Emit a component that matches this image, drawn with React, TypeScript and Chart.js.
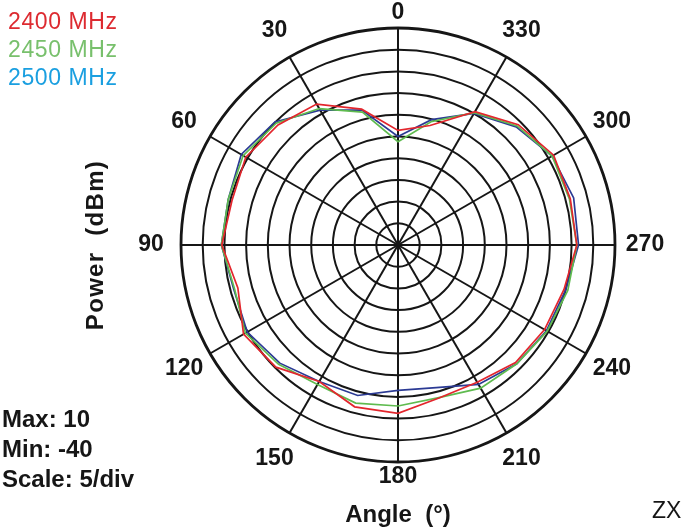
import React, { useEffect, useRef } from "react";
import { Chart, registerables } from "chart.js";

Chart.register(...registerables);

// Angles in degrees (counter-clockwise from top, as in the reference)
const ANGLES = [0, 15, 30, 45, 60, 75, 90, 105, 120, 135, 150, 165, 180, 195, 210, 225, 240, 255, 270, 285, 300, 315, 330, 345];

// Power (dBm) per angle
const P2400 = [-13.6, -7.6, -2.5, -0.9, 0.5, -0.4, 0.6, -1.8, 1.1, -0.2, -3.7, -1.4, -1.2, -3.5, -3.5, -1.7, -1.0, -0.4, 1.2, 1.1, 1.4, -0.8, -4.5, -11.5];
const P2450 = [-16.2, -8.3, -3.7, -0.3, 1.2, 0.5, 0.7, -1.0, 0.6, -1.1, -2.9, -2.3, -2.9, -3.6, -1.9, -1.3, -0.3, 0.5, 1.2, 0.9, 1.0, -1.2, -4.8, -10.6];
const P2500 = [-15.0, -7.8, -4.1, 0.1, 1.7, 0.5, 0.7, -0.8, 0.1, -1.5, -3.7, -4.1, -6.5, -6.0, -2.9, -1.3, -0.5, 0.0, 1.6, 1.9, 1.0, -1.5, -5.0, -10.1];

const SERIES_NAMES = ["2400 MHz", "2450 MHz", "2500 MHz"];
const R_MIN = -40;
const R_MAX = 10;
const R_STEP = 5;

const FONT = '"Liberation Sans", Arial, Helvetica, sans-serif';
const INK = "#161616";

// Chart.js goes clockwise; the reference goes counter-clockwise.
const reorder = <T,>(arr: T[]): T[] => arr.map((_, i) => arr[(arr.length - i) % arr.length]);

const angleLabelPlugin = {
  id: "angleLabels",
  afterDraw(chart: any) {
    const scale = chart.scales.r;
    const ctx = chart.ctx;
    const labels = chart.data.labels as number[];
    ctx.save();
    ctx.font = `bold 23px ${FONT}`;
    ctx.fillStyle = INK;
    ctx.textAlign = "center";
    ctx.textBaseline = "middle";
    labels.forEach((lab, i) => {
      if (lab % 30 !== 0) return;
      const vertical = lab === 0 || lab === 180;
      const p = scale.getPointPosition(i, scale.drawingArea + (vertical ? 15 : 30));
      ctx.fillText(String(lab), p.x, p.y);
    });
    ctx.restore();
  },
};

export default function App() {
  const ref = useRef<HTMLCanvasElement | null>(null);

  useEffect(() => {
    if (!ref.current) return;
    const chart = new Chart(ref.current, {
      type: "radar",
      data: {
        labels: reorder(ANGLES),
        datasets: [
          { label: SERIES_NAMES[0], data: reorder(P2400), borderColor: "#e3262d", borderWidth: 1.7, pointRadius: 0, fill: false, tension: 0 },
          { label: SERIES_NAMES[1], data: reorder(P2450), borderColor: "#5fbb4f", borderWidth: 1.7, pointRadius: 0, fill: false, tension: 0 },
          { label: SERIES_NAMES[2], data: reorder(P2500), borderColor: "#2b3a94", borderWidth: 1.7, pointRadius: 0, fill: false, tension: 0 },
        ],
      },
      options: {
        responsive: true,
        maintainAspectRatio: false,
        animation: false,
        layout: { padding: { left: 181, right: 85, top: 28, bottom: 68 } },
        plugins: { legend: { display: false }, tooltip: { enabled: false } },
        scales: {
          r: {
            min: R_MIN,
            max: R_MAX,
            beginAtZero: false,
            ticks: { stepSize: R_STEP, display: false },
            pointLabels: { display: false },
            grid: {
              circular: true,
              color: INK,
              lineWidth: (ctx: any) => (ctx.index === 10 ? 2.8 : 2),
            },
            angleLines: {
              color: (ctx: any) => (ctx.index % 2 === 0 ? INK : "rgba(0,0,0,0)"),
              lineWidth: (ctx: any) => (ctx.index % 2 === 0 ? 2 : 0),
            },
          },
        },
      },
      plugins: [angleLabelPlugin],
    } as any);
    return () => chart.destroy();
  }, []);

  const abs: React.CSSProperties = { position: "absolute", fontFamily: FONT, color: INK, whiteSpace: "pre", margin: 0 };

  return (
    <div style={{ position: "fixed", left: 0, top: 0, width: 700, height: 530, background: "#fff" }}>
      <canvas ref={ref} />
      <div style={{ ...abs, left: 8, top: 7, fontSize: 23, lineHeight: "28px", letterSpacing: "0.6px" }}>
        <div style={{ color: "#dd2a30" }}>{SERIES_NAMES[0]}</div>
        <div style={{ color: "#78c06c" }}>{SERIES_NAMES[1]}</div>
        <div style={{ color: "#1a9fe0" }}>{SERIES_NAMES[2]}</div>
      </div>
      <div
        style={{
          ...abs,
          left: -5,
          top: 233,
          width: 200,
          height: 24,
          fontSize: 24,
          lineHeight: "24px",
          fontWeight: "bold",
          textAlign: "center",
          letterSpacing: "1.3px",
          transform: "rotate(-90deg)",
        }}
      >
        {"Power  (dBm)"}
      </div>
      <div style={{ ...abs, left: 2, top: 404, fontSize: 24, lineHeight: "30px", fontWeight: "bold" }}>
        <div>{"Max: 10"}</div>
        <div>{"Min: -40"}</div>
        <div>{"Scale: 5/div"}</div>
      </div>
      <div style={{ ...abs, left: 298, top: 502, width: 200, textAlign: "center", fontSize: 24, lineHeight: "24px", fontWeight: "bold" }}>
        {"Angle  (°)"}
      </div>
      <div style={{ ...abs, left: 652, top: 499, fontSize: 23, lineHeight: "23px" }}>{"ZX"}</div>
    </div>
  );
}
